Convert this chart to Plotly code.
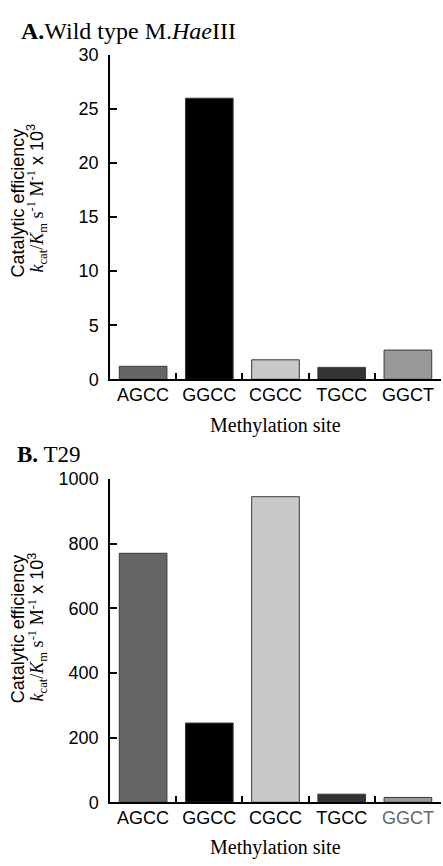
import plotly.graph_objects as go

W, H = 443, 866

sites = ["AGCC", "GGCC", "CGCC", "TGCC", "GGCT"]
wild_type = [1.2, 26.0, 1.8, 1.1, 2.7]
t29 = [770, 245, 945, 25, 15]
bar_colors = ["#666666", "#000000", "#c8c8c8", "#333333", "#999999"]
a_ticks = [0, 5, 10, 15, 20, 25, 30]
b_ticks = [0, 200, 400, 600, 800, 1000]
b_ticktext = ["AGCC", "GGCC", "CGCC", "TGCC", "<span style='color:#666666'>GGCT</span>"]

SANS = "Liberation Sans, Arial, sans-serif"
SERIF = "Liberation Serif, Times New Roman, serif"

pos = list(range(len(sites)))
bounds = [p + 0.5 for p in pos]


def px_x(x):
    return x / W


def px_y(y):
    return 1 - y / H


fig = go.Figure()
fig.add_trace(go.Bar(x=pos, y=wild_type, marker=dict(color=bar_colors, line=dict(color="#3a3a3a", width=1)),
                     width=0.72, xaxis="x", yaxis="y", showlegend=False))
fig.add_trace(go.Bar(x=pos, y=t29, marker=dict(color=bar_colors, line=dict(color="#3a3a3a", width=1)),
                     width=0.72, xaxis="x2", yaxis="y2", showlegend=False))

xdom = [px_x(110), px_x(441)]
tf = dict(family=SANS, size=18, color="black")
axis_common = dict(showline=True, linecolor="black", linewidth=1.5, ticks="inside", ticklen=7,
                   tickwidth=1.5, tickcolor="black", showgrid=False, zeroline=False, tickfont=tf)
xr = [-0.5, 4.5]

fig.update_layout(
    width=W, height=H, margin=dict(l=0, r=0, t=0, b=0),
    paper_bgcolor="white", plot_bgcolor="white",
    xaxis=dict(domain=xdom, anchor="y", range=xr, tickvals=bounds, showticklabels=False, **axis_common),
    xaxis2=dict(domain=xdom, anchor="y2", range=xr, tickvals=bounds, showticklabels=False, **axis_common),
    xaxis3=dict(overlaying="x", anchor="y", range=xr, tickvals=pos, ticktext=sites, ticks="",
                showline=False, showgrid=False, zeroline=False, tickfont=tf, ticklabelstandoff=3),
    xaxis4=dict(overlaying="x2", anchor="y2", range=xr, tickvals=pos, ticktext=b_ticktext, ticks="",
                showline=False, showgrid=False, zeroline=False, tickfont=tf, ticklabelstandoff=3),
    yaxis=dict(domain=[px_y(378), px_y(46)], anchor="x", range=[0, 30], tickvals=a_ticks,
               ticklabelstandoff=6, **axis_common),
    yaxis2=dict(domain=[px_y(811), px_y(480)], anchor="x2", range=[0, 1000], tickvals=b_ticks,
                ticklabelstandoff=6, **axis_common),
)
fig.add_trace(go.Scatter(x=[pos[0]], y=[0], xaxis="x3", yaxis="y", mode="markers",
                         marker=dict(opacity=0), showlegend=False, hoverinfo="skip"))
fig.add_trace(go.Scatter(x=[pos[0]], y=[0], xaxis="x4", yaxis="y2", mode="markers",
                         marker=dict(opacity=0), showlegend=False, hoverinfo="skip"))

ytitle2 = ("<span style='font-family:Liberation Serif'><i>k</i><sub>cat</sub>/<i>K</i><sub>m</sub> "
           "s<sup>-1</sup> M<sup>-1</sup></span> x 10<sup>3</sup>")

annots = [
    dict(text="<b>A.</b>Wild type M.<i>Hae</i>III", x=px_x(19), y=px_y(21), xanchor="left", yanchor="middle",
         font=dict(family=SERIF, size=24, color="black")),
    dict(text="<b>B.</b> T29", x=px_x(15), y=px_y(455), xanchor="left", yanchor="middle",
         font=dict(family=SERIF, size=23, color="black")),
    dict(text="Methylation site", x=px_x(275.5), y=px_y(425), xanchor="center", yanchor="middle",
         font=dict(family=SERIF, size=20, color="black")),
    dict(text="Methylation site", x=px_x(275.5), y=px_y(857), xanchor="center", yanchor="middle",
         font=dict(family=SERIF, size=20, color="black")),
    dict(text="Catalytic efficiency", x=px_x(18), y=px_y(198), textangle=-90, xanchor="center", yanchor="middle",
         font=dict(family=SANS, size=18, color="black")),
    dict(text=ytitle2, x=px_x(37), y=px_y(193), textangle=-90, xanchor="center", yanchor="middle",
         font=dict(family=SANS, size=18, color="black")),
    dict(text="Catalytic efficiency", x=px_x(18), y=px_y(634), textangle=-90, xanchor="center", yanchor="middle",
         font=dict(family=SANS, size=18, color="black")),
    dict(text=ytitle2, x=px_x(37), y=px_y(632), textangle=-90, xanchor="center", yanchor="middle",
         font=dict(family=SANS, size=18, color="black")),
]
for a in annots:
    a.update(xref="paper", yref="paper", showarrow=False)
fig.update_layout(annotations=annots)

fig.write_html("out.html", config={"displayModeBar": False},
               post_script="document.body.style.margin='0';document.body.style.overflow='hidden';")
